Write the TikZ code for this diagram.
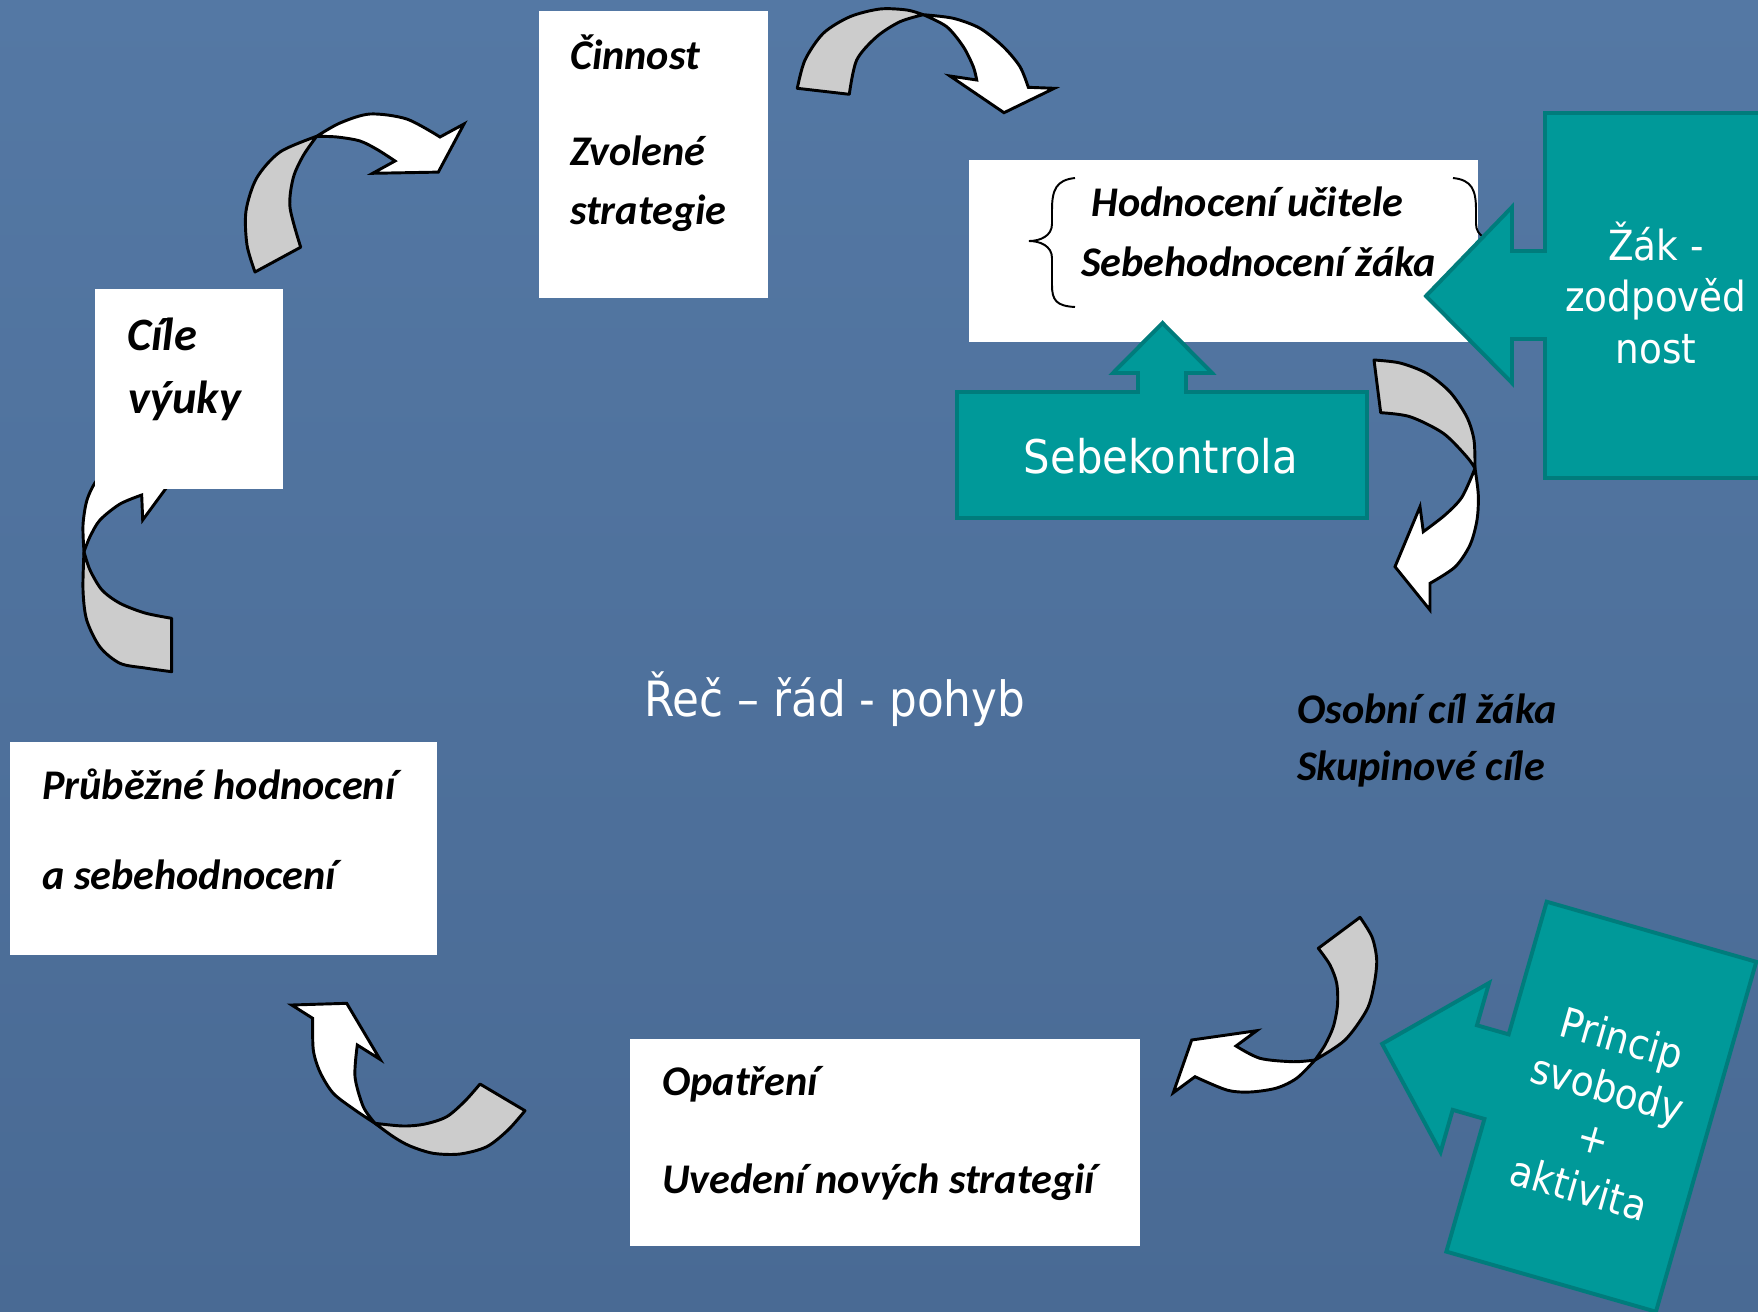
\documentclass[tikz,border=0pt]{standalone}
\usepackage{fontspec}
\setmainfont{Carlito}
\newfontfamily\tahoma{DejaVu Sans Condensed}
\usepackage{tikz}
\usetikzlibrary{positioning}

\definecolor{bgtop}{RGB}{84,120,164}
\definecolor{bgbot}{RGB}{73,106,148}
\definecolor{tealfill}{RGB}{0,153,153}
\definecolor{tealline}{RGB}{0,124,124}
\definecolor{backgray}{RGB}{204,204,204}

\tikzset{
  whitebox/.style={fill=white},
  boxtext/.style={font=\fontsize{17.3}{21}\selectfont\bfseries\itshape, inner sep=0pt, anchor=base west},
  tealshape/.style={fill=tealfill, draw=tealline, line width=1.6pt},
  tealtext/.style={text=white, font=\tahoma\fontsize{17}{21.2}\selectfont, align=center, inner sep=0pt},
  backband/.style={fill=backgray, draw=black, line width=1.2pt, line join=round},
  frontband/.style={fill=white, draw=black, line width=1.2pt, line join=miter},
  bracket/.style={draw=black, line width=0.8pt},
}

\begin{document}
\begin{tikzpicture}[x=0.4096pt, y=-0.4096pt]
    \useasboundingbox (0,0) rectangle (1758,1311);
    \fill[top color=bgtop, bottom color=bgbot] (0,0) rectangle (1758,1311);

    % curved arrows
    \draw[backband] plot[smooth] coordinates {(797.3,88.3) (805,60) (823.3,33.3) (850,16.7) (880,9) (906.7,10) (923.3,14.7)} -- plot[smooth] coordinates {(923.3,14.7) (900,21.7) (876.7,36.7) (856.7,60) (849.3,94.3)} -- cycle;
    \draw[frontband] plot[smooth] coordinates {(923.3,14.7) (953.3,18.3) (980,28.3) (1003.3,46.7) (1020,66.7) (1028.3,87.3)} -- (1054.3,88.3) -- (1004,112.7) -- (950,76) -- (976.7,80) -- plot[smooth] coordinates {(976.7,80) (973.3,66.7) (963.3,46.7) (946.7,26.7) (923.3,14.7)} -- cycle;

    \draw[backband] plot[smooth] coordinates {(255,272) (247,245) (246,211) (256.7,178) (280,152) (316.7,136.3)} -- plot[smooth] coordinates {(316.7,136.3) (303.3,155.5) (293.3,177.7) (290,207.3) (300.7,247.2)} -- cycle;
    \draw[frontband] plot[smooth] coordinates {(316.7,136.3) (340,123) (370,114) (406.7,119) (440,137)} -- (464,124) -- (438.3,172.1) -- (372.7,173.3) -- (395,161) -- plot[smooth] coordinates {(395,161) (378,150) (360,141) (337,137) (316.7,136.3)} -- cycle;

    \draw[backband] plot[smooth] coordinates {(1374,360) (1400,363) (1426.7,373.3) (1450,392) (1466.7,416.7) (1474,440) (1475,468.3)} -- plot[smooth] coordinates {(1475,468.3) (1466.7,456.7) (1443.3,433.3) (1410,416.7) (1380.7,412.7)} -- cycle;
    \draw[frontband] plot[smooth] coordinates {(1475,468.3) (1478.3,495) (1477,520) (1470,545) (1455,567) (1430,583.3)} -- (1430,610) -- (1395,566.7) -- (1420,506.7) -- (1423.3,531.7) -- plot[smooth] coordinates {(1423.3,531.7) (1445,515) (1462,497) (1475,468.3)} -- cycle;

    \draw[backband] plot[smooth] coordinates {(1360,917.3) (1372,937) (1376.7,960) (1374,985) (1366.7,1010) (1345,1040) (1315,1060)} -- plot[smooth] coordinates {(1315,1060) (1325,1045) (1333.3,1026.7) (1337.5,1005) (1336.7,983.3) (1330,965) (1318.3,948.3)} -- cycle;
    \draw[frontband] plot[smooth] coordinates {(1315,1060) (1297,1078) (1276.7,1088) (1250,1092) (1226.7,1090) (1195,1076.7)} -- (1173.3,1092.7) -- (1191.7,1040) -- (1256.7,1030.7) -- (1236,1046) -- plot[smooth] coordinates {(1236,1046) (1260,1058.3) (1293,1061.7) (1315,1060)} -- cycle;

    \draw[backband] plot[smooth] coordinates {(525,1110.7) (508,1130) (486.7,1146.7) (460,1154) (433.3,1153.3) (410,1146) (393.3,1136.7) (375,1123.3)} -- plot[smooth] coordinates {(375,1123.3) (403.3,1126) (425,1124) (446.7,1116.7) (465,1101) (480,1084)} -- cycle;
    \draw[frontband] plot[smooth] coordinates {(375,1123.3) (355,1110) (333.3,1093.3) (320,1072) (313.3,1050) (312.7,1018.3)} -- (291.7,1005) -- (346.7,1003.3) -- (380,1059.3) -- (357.3,1045) -- plot[smooth] coordinates {(357.3,1045) (355,1076.7) (363.3,1106.7) (375,1123.3)} -- cycle;

    \draw[backband] plot[smooth] coordinates {(171.7,671.7) (145,668) (120,663.3) (100,647) (86.7,620) (83,590) (84,551.7)} -- plot[smooth] coordinates {(84,551.7) (90,570) (102,590) (120,603.3) (145,613) (171.7,618.3)} -- cycle;
    \draw[frontband] plot[smooth] coordinates {(84,551.7) (83,525) (87,500) (97,480) (115,465) (141,455)} -- (141,430) -- (178,472) -- (142.7,520) -- (141.7,495) -- plot[smooth] coordinates {(141.7,495) (120,504) (100,520) (90,536.7) (84,551.7)} -- cycle;

    % white boxes
    \fill[whitebox] (539,11) rectangle (768,298);
    \fill[whitebox] (95,289) rectangle (283,489);
    \fill[whitebox] (969,160) rectangle (1478,342);
    \fill[whitebox] (10,742) rectangle (437,955);
    \fill[whitebox] (630,1039) rectangle (1140,1246);

    \draw[bracket] (1075,178) .. controls (1056,180) and (1052,190) .. (1052,210) -- (1052,224) .. controls (1052,236) and (1040,241) .. (1029,241) .. controls (1040,241) and (1052,246) .. (1052,258) -- (1052,285) .. controls (1052,300) and (1056,306) .. (1075,307);
    \draw[bracket] (1453,178) .. controls (1472,180) and (1476,190) .. (1476,210) -- (1476,224) .. controls (1476,236) and (1488,241) .. (1499,241) .. controls (1488,241) and (1476,246) .. (1476,258) -- (1476,285) .. controls (1476,300) and (1472,306) .. (1453,307);

    % teal callouts
    \draw[tealshape] (1545,113) -- (1800,113) -- (1800,478) -- (1545,478) -- (1545,339) -- (1512,339) -- (1512,383) -- (1426,296) -- (1512,207) -- (1512,251) -- (1545,251) -- cycle;
    \draw[tealshape] (957,392) -- (1138,392) -- (1138,373) -- (1113,373) -- (1162.5,323) -- (1212,373) -- (1186,373) -- (1186,392) -- (1367,392) -- (1367,518) -- (957,518) -- cycle;
    \begin{scope}[shift={(1546.7,901.7)}, rotate=-16]
        \draw[tealshape] (0,0) -- (218,0) -- (218,364) -- (0,364) -- (0,226) -- (-33,226) -- (-33,270) -- (-119,182) -- (-33,94) -- (-33,138) -- (0,138) -- cycle;
        \node[tealtext, rotate=-16] (princip) at (110,188) {Princip\\svobody\\+\\aktivita};
    \end{scope}

    \node[tealtext] (zak) at (1656,293) {Žák -\\zodpověd\\nost};
    \node[tealtext, font=\tahoma\fontsize{19}{23}\selectfont, anchor=base] (sebekontrola) at (1161,473.3) {Sebekontrola};
    \node[tealtext, font=\tahoma\fontsize{19.9}{23}\selectfont, anchor=base] (rec) at (835,716) {Řeč – řád - pohyb};

    % texts
    \node[boxtext] (cinnost) at (569.6,69.5) {Činnost};
    \node[boxtext] (zvolene) at (569.6,165) {Zvolené};
    \node[boxtext] (strategie) at (569.6,224) {strategie};
    \node[boxtext, font=\fontsize{19}{23}\selectfont\bfseries\itshape] (cile) at (126.7,350) {Cíle};
    \node[boxtext, font=\fontsize{19}{23}\selectfont\bfseries\itshape] (vyuky) at (128,413) {výuky};
    \node[boxtext] (hodnoceni) at (1091,216.7) {Hodnocení učitele};
    \node[boxtext] (sebehodnoceni) at (1080.6,276) {Sebehodnocení žáka};
    \node[boxtext] (osobni) at (1296.7,723.3) {Osobní cíl žáka};
    \node[boxtext] (skupinove) at (1296.7,780) {Skupinové cíle};
    \node[boxtext] (prubezne) at (41.7,799.3) {Průběžné hodnocení};
    \node[boxtext] (asebe) at (41.7,889.3) {a sebehodnocení};
    \node[boxtext] (opatreni) at (661.8,1095) {Opatření};
    \node[boxtext] (uvedeni) at (661.8,1193.3) {Uvedení nových strategií};
\end{tikzpicture}
\end{document}
